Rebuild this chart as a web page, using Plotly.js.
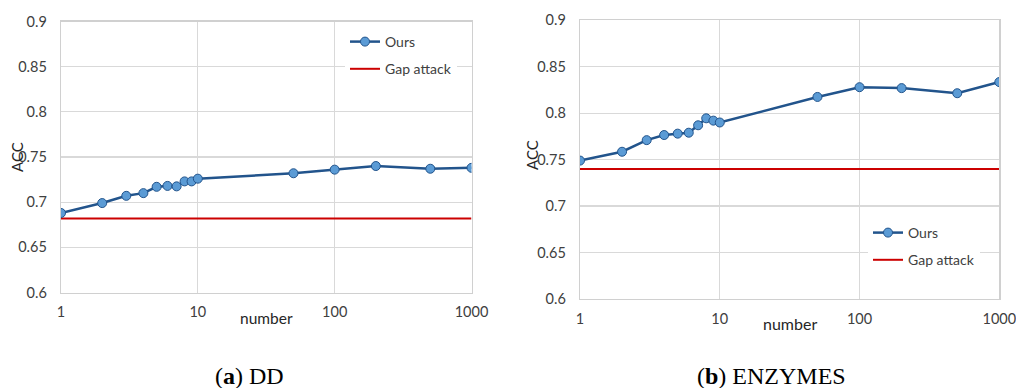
<!DOCTYPE html>
<html>
<head>
<meta charset="utf-8">
<script src="https://cdn.plot.ly/plotly-3.0.1.min.js"></script>
<style>html,body{margin:0;padding:0;background:#fff;}#chart{width:1016px;height:388px;}</style>
</head>
<body>
<div id="chart"></div>
<script>
const xNumbers = [1, 2, 3, 4, 5, 6, 7, 8, 9, 10, 50, 100, 200, 500, 1000];
const ddOurs = [0.688, 0.699, 0.707, 0.710, 0.717, 0.718, 0.7175, 0.723, 0.723, 0.726, 0.732, 0.736, 0.740, 0.737, 0.738];
const enzymesOurs = [0.749, 0.7585, 0.771, 0.7765, 0.778, 0.779, 0.787, 0.7945, 0.792, 0.790, 0.8175, 0.828, 0.827, 0.8215, 0.8335];
const ddGapAttack = 0.682;
const enzymesGapAttack = 0.740;
const yTickVals = [0.6, 0.65, 0.7, 0.75, 0.8, 0.85, 0.9];
const yTickText = ['0.6', '0.65', '0.7', '0.75', '0.8', '0.85', '0.9'];
const xTickVals = [1, 10, 100, 1000];
const xTickText = ['1', '10', '100', '1000'];
const seriesNames = ['Ours', 'Gap attack'];
const captions = ['(<b>a</b>) DD', '(<b>b</b>) ENZYMES'];

const W = 1016, H = 388;
const lineBlue = '#22548c', markerBlue = '#5b9bd5', red = '#cc0000';
const sans = 'Lato, Carlito, sans-serif';
const tickFont = {family: sans, size: 14.5, color: '#404040'};
const xEnds = [xNumbers[0], xNumbers[xNumbers.length - 1]];

function oursTrace(y, xa, ya, leg) {
  return {x: xNumbers, y: y, xaxis: xa, yaxis: ya, type: 'scatter', mode: 'lines+markers',
    name: seriesNames[0], legend: leg, legendgroup: leg + 'a', legendrank: 1,
    line: {color: lineBlue, width: 2.5},
    marker: {size: 9, color: markerBlue, line: {color: lineBlue, width: 1}}};
}
function gapTrace(v, xa, ya, leg) {
  return {x: xEnds, y: [v, v], xaxis: xa, yaxis: ya, type: 'scatter', mode: 'lines',
    name: seriesNames[1], legend: leg, legendgroup: leg + 'b', legendrank: 2,
    line: {color: red, width: 2}};
}

const data = [
  gapTrace(ddGapAttack, 'x', 'y', 'legend'),
  oursTrace(ddOurs, 'x', 'y', 'legend'),
  gapTrace(enzymesGapAttack, 'x2', 'y2', 'legend2'),
  oursTrace(enzymesOurs, 'x2', 'y2', 'legend2')
];

function xAxis(domain, anchor) {
  return {domain: domain, anchor: anchor, type: 'log', range: [0, 3], tickvals: xTickVals, ticktext: xTickText,
    showgrid: true, gridcolor: '#d9d9d9', gridwidth: 1.3, showline: true, linecolor: '#d0d0d0', linewidth: 1.3, mirror: true,
    ticks: '', tickfont: tickFont, ticklabelstandoff: 6, ticklabeloverflow: 'allow', zeroline: false, fixedrange: true};
}
function yAxis(domain, anchor) {
  return {domain: domain, anchor: anchor, range: [0.6, 0.9], tickvals: yTickVals, ticktext: yTickText,
    showgrid: true, gridcolor: '#d9d9d9', gridwidth: 1.3, showline: true, linecolor: '#d0d0d0', linewidth: 1.3, mirror: true,
    ticks: '', tickfont: tickFont, ticklabelstandoff: 10, ticklabeloverflow: 'allow', zeroline: false, fixedrange: true};
}

const legendCommon = {bgcolor: '#ffffff', borderwidth: 0, font: {family: sans, size: 14, color: '#404040'},
  xanchor: 'left', yanchor: 'top', tracegroupgap: 6, itemwidth: 30, traceorder: 'grouped'};

function ann(text, x, y, size, extra) {
  return Object.assign({text: text, xref: 'paper', yref: 'paper', x: x / W, y: 1 - y / H, showarrow: false,
    xanchor: 'center', yanchor: 'middle', font: {family: sans, size: size, color: '#262626'}}, extra || {});
}
const serif = {family: '"Liberation Serif", "DejaVu Serif", serif', size: 24, color: '#000000'};

const layout = {
  width: W, height: H,
  margin: {l: 0, r: 0, t: 0, b: 0},
  paper_bgcolor: '#ffffff', plot_bgcolor: '#ffffff',
  showlegend: true,
  xaxis: xAxis([61 / W, 471.5 / W], 'y'),
  yaxis: yAxis([1 - 292.5 / H, 1 - 21.5 / H], 'x'),
  xaxis2: xAxis([580 / W, 999.3 / W], 'y2'),
  yaxis2: yAxis([1 - 299 / H, 1 - 20.3 / H], 'x2'),
  legend: Object.assign({}, legendCommon, {x: 345 / W, y: 1 - 26 / H}),
  legend2: Object.assign({}, legendCommon, {x: 868 / W, y: 1 - 217 / H}),
  annotations: [
    ann('ACC', 17, 157, 15, {textangle: -90}),
    ann('number', 266, 318, 15.5),
    ann('ACC', 532, 155, 15, {textangle: -90}),
    ann('number', 790, 323, 16),
    ann(captions[0], 249, 376, 24, {font: serif}),
    ann(captions[1], 771, 376, 24, {font: serif})
  ]
};

Plotly.newPlot('chart', data, layout, {staticPlot: true, displayModeBar: false});
</script>
</body>
</html>
